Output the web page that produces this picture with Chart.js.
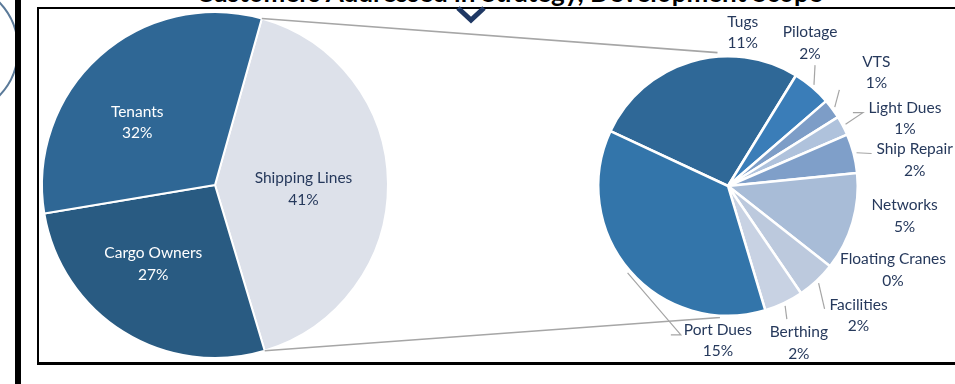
<!DOCTYPE html>
<html>
<head>
<meta charset="utf-8">
<script src="https://cdn.jsdelivr.net/npm/chart.js@4.4.1/dist/chart.umd.min.js"></script>
<style>
  html, body { margin: 0; padding: 0; background: #fff; overflow: hidden; }
  #stage { position: relative; width: 955px; height: 384px; overflow: hidden; }
  #stage canvas { position: absolute; left: 0; top: 0; }
  .frame { position: absolute; left: 37px; top: 7px; width: 940px; height: 353px;
           border: 2px solid #000; border-bottom-width: 3px; }
  .bar { position: absolute; left: 15px; top: 0; width: 6px; height: 384px; background: #000; }
  .ring { position: absolute; left: -119px; top: -20px; width: 134px; height: 134px;
          border: 2px solid #5b7a99; border-radius: 50%; }
  .title { position: absolute; left: 196px; top: -24px; white-space: nowrap;
           font: bold 26px Lato, "Open Sans", sans-serif; color: #000; }
  svg.chev { position: absolute; left: 0; top: 0; }
</style>
</head>
<body>
<div id="stage">
  <div class="title">Customers Addressed in Strategy, Development Scope</div>
  <div class="ring"></div>
  <div class="bar"></div>
  <div class="frame"></div>
  <svg class="chev" width="955" height="40"><polyline points="458,8 471,20 484,8" fill="none" stroke="#1f3864" stroke-width="5"/></svg>
  <canvas id="pieMain" width="955" height="384"></canvas>
  <canvas id="pieSplit" width="955" height="384"></canvas>
</div>
<script>
// ---- data ----
const mainLabels = ['Shipping Lines', 'Cargo Owners', 'Tenants'];
const mainValues = [41, 27, 32];
const splitLabels = ['Tugs', 'Pilotage', 'VTS', 'Light Dues', 'Ship Repair', 'Networks',
  'Floating Cranes', 'Facilities', 'Berthing', 'Port Dues'];
const splitValues = [11, 2, 1, 1, 2, 5, 0, 2, 2, 15];

// ---- styles ----
const FONT = '15.5px Lato, "Open Sans", sans-serif';
const NAVY = '#26395c';
const mainColors = ['#dde1ea', '#295b82', '#2f6795'];
const mainTextColors = [NAVY, '#ffffff', '#ffffff'];
// label offsets from the slice centre point
const mainLabelOffsets = [[2, -6], [-16, -5], [-20, -9]];

const splitColors = ['#2f6897', '#3a7db8', '#7d9dc7', '#afc2dc', '#7f9fc9', '#a8bcd7',
  '#a8bcd7', '#bcc9dd', '#c8d2e3', '#3375aa'];
// label offsets from the outer mid point of each slice, and leader points relative to the label
const splitLabelOffsets = [[52, -40], [-2, -55], [44, -47], [62, -18], [61, -4], [52, -17],
  [63, -7], [42, 24], [15, 29], [88, 59]];
const splitLeaders = [null, [[5, 33]], [[-37, 28]], [[-42, 5], [-52, 5]], [[-43, 4]], null,
  null, [[-34, 4]], [[-12, -13]], [[-37, 5], [-47, 5]]];

const mainLabelPlugin = {
  id: 'mainLabels',
  afterDraw(chart) {
    const ctx = chart.ctx;
    const arcs = chart.getDatasetMeta(0).data;
    ctx.save();
    ctx.font = FONT;
    ctx.textAlign = 'center';
    ctx.textBaseline = 'middle';
    arcs.forEach((arc, i) => {
      const p = arc.tooltipPosition();
      const x = p.x + mainLabelOffsets[i][0];
      const y = p.y + mainLabelOffsets[i][1];
      ctx.fillStyle = mainTextColors[i];
      ctx.fillText(mainLabels[i], x, y);
      ctx.fillText(mainValues[i] + '%', x, y + 21.5);
    });
    ctx.restore();
  }
};

const mainChart = new Chart(document.getElementById('pieMain'), {
  type: 'pie',
  data: {
    labels: mainLabels,
    datasets: [{ data: mainValues, backgroundColor: mainColors, borderColor: '#ffffff', borderWidth: 2 }]
  },
  options: {
    responsive: false,
    animation: false,
    rotation: 15.7,
    layout: { padding: { left: 41, right: 566, top: 11, bottom: 25 } },
    plugins: { legend: { display: false }, tooltip: { enabled: false } }
  },
  plugins: [mainLabelPlugin]
});

const splitPlugin = {
  id: 'splitDeco',
  beforeDatasetsDraw(chart) {
    // connector lines from the Shipping Lines slice to the split pie
    const ctx = chart.ctx;
    const src = mainChart.getDatasetMeta(0).data[0];
    const c = chart.getDatasetMeta(0).data[0];
    const r = c.outerRadius + 4;
    const topA = (-94.5) * Math.PI / 180;
    const botA = (93.5) * Math.PI / 180;
    ctx.save();
    ctx.strokeStyle = '#a6a6a6';
    ctx.lineWidth = 1.6;
    ctx.beginPath();
    ctx.moveTo(src.x + Math.cos(src.startAngle) * src.outerRadius, src.y + Math.sin(src.startAngle) * src.outerRadius);
    ctx.lineTo(c.x + Math.cos(topA) * r, c.y + Math.sin(topA) * r);
    ctx.moveTo(src.x + Math.cos(src.endAngle) * src.outerRadius, src.y + Math.sin(src.endAngle) * src.outerRadius);
    ctx.lineTo(c.x + Math.cos(botA) * (r - 2), c.y + Math.sin(botA) * (r - 2));
    ctx.stroke();
    ctx.restore();
  },
  afterDraw(chart) {
    const ctx = chart.ctx;
    const arcs = chart.getDatasetMeta(0).data;
    ctx.save();
    ctx.font = FONT;
    ctx.textAlign = 'center';
    ctx.textBaseline = 'middle';
    arcs.forEach((arc, i) => {
      const mid = (arc.startAngle + arc.endAngle) / 2;
      const ex = arc.x + Math.cos(mid) * arc.outerRadius;
      const ey = arc.y + Math.sin(mid) * arc.outerRadius;
      const lx = ex + splitLabelOffsets[i][0];
      const ly = ey + splitLabelOffsets[i][1];
      if (splitLeaders[i]) {
        ctx.strokeStyle = '#a5a5a5';
        ctx.lineWidth = 1.2;
        ctx.beginPath();
        ctx.moveTo(arc.x + Math.cos(mid) * (arc.outerRadius + 3), arc.y + Math.sin(mid) * (arc.outerRadius + 3));
        splitLeaders[i].forEach(pt => ctx.lineTo(lx + pt[0], ly + pt[1]));
        ctx.stroke();
      }
      ctx.fillStyle = NAVY;
      ctx.fillText(splitLabels[i], lx, ly);
      ctx.fillText(splitValues[i] + '%', lx, ly + 21.5);
    });
    ctx.restore();
  }
};

new Chart(document.getElementById('pieSplit'), {
  type: 'pie',
  data: {
    labels: splitLabels,
    datasets: [{ data: splitValues, backgroundColor: splitColors, borderColor: '#ffffff', borderWidth: 2.5 }]
  },
  options: {
    responsive: false,
    animation: false,
    rotation: -65,
    layout: { padding: { left: 597, right: 96, top: 55, bottom: 67 } },
    plugins: { legend: { display: false }, tooltip: { enabled: false } }
  },
  plugins: [splitPlugin]
});
</script>
</body>
</html>
